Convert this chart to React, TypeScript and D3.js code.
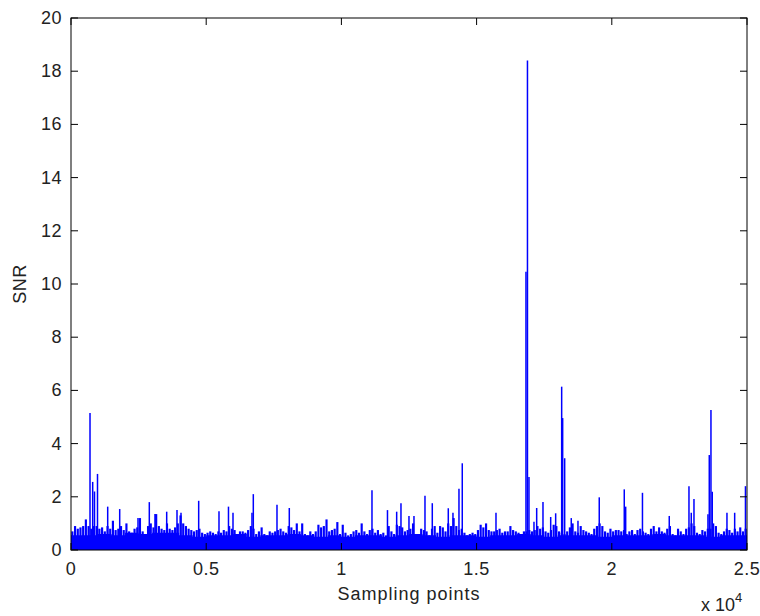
import React from 'react';
import * as d3 from 'd3';

// SNR envelope per 100 samples (column max of the dense noise band)
const BIN = 100;
const envelope = [
  0.7, 0.9, 0.8, 0.85, 0.9, 1.15, 0.9, 0.8, 0.9, 0.9,
  0.8, 0.85, 0.7, 0.9, 0.8, 1.1, 0.75, 0.8, 0.9, 0.75,
  1.0, 0.7, 0.65, 0.8, 0.85, 1.2, 0.7, 0.6, 0.9, 1.0,
  0.85, 1.35, 0.9, 0.8, 0.75, 1.0, 0.8, 0.75, 0.85, 1.0,
  1.3, 1.0, 0.9, 0.8, 0.75, 0.7, 0.75, 0.8, 0.65, 0.6,
  0.65, 0.7, 0.65, 0.6, 0.7, 0.65, 0.75, 0.7, 0.9, 0.8,
  0.75, 0.6, 0.7, 0.7, 0.65, 0.75, 0.9, 0.8, 0.6, 0.7,
  0.85, 0.6, 0.55, 0.7, 0.65, 0.7, 0.75, 0.8, 0.7, 0.65,
  0.9, 0.85, 0.75, 1.0, 0.7, 1.0, 0.6, 0.55, 0.7, 0.6,
  0.7, 0.95, 0.85, 0.9, 1.15, 0.7, 0.75, 0.8, 1.05, 0.6,
  0.95, 0.65, 0.55, 0.6, 0.7, 0.75, 0.65, 1.0, 0.7, 0.6,
  0.75, 0.8, 0.65, 0.75, 0.6, 0.65, 0.55, 0.9, 0.7, 0.6,
  0.95, 0.9, 0.85, 0.7, 0.75, 0.8, 1.0, 0.6, 0.55, 0.8,
  0.75, 0.7, 0.55, 0.8, 0.9, 0.65, 0.9, 0.85, 0.7, 1.0,
  0.9, 1.2, 0.9, 0.75, 0.8, 0.65, 0.55, 0.6, 0.65, 0.6,
  0.75, 0.95, 0.85, 1.0, 0.75, 0.7, 0.7, 0.75, 0.8, 0.65,
  0.7, 0.7, 0.9, 0.75, 0.7, 0.65, 0.6, 0.7, 0.7, 0.75,
  0.7, 0.75, 0.9, 0.8, 0.85, 0.7, 0.65, 0.75, 0.95, 0.9,
  0.7, 0.65, 0.6, 0.7, 0.85, 1.0, 0.7, 0.65, 0.9, 0.75,
  0.7, 0.65, 0.6, 0.8, 0.9, 1.0, 0.9, 0.7, 0.65, 0.8,
  0.7, 0.75, 0.75, 0.7, 0.75, 0.6, 0.7, 0.75, 0.6, 0.75,
  0.8, 0.7, 0.65, 0.6, 0.8, 0.9, 0.7, 0.85, 0.7, 0.65,
  0.8, 0.9, 0.6, 0.55, 0.8, 0.7, 0.6, 0.8, 0.85, 1.0,
  0.9, 0.65, 0.6, 0.75, 0.7, 0.8, 0.8, 1.0, 0.9, 0.65,
  0.6, 0.7, 0.8, 0.75, 0.65, 0.8, 0.7, 0.85, 0.7, 0.8,
];

// solid lower part of the noise band, per 500 samples
const FLOOR_STEP = 500;
const floorLevels = [
  0.55, 0.55, 0.6, 0.55, 0.65, 0.6, 0.65, 0.65, 0.55, 0.5,
  0.55, 0.55, 0.6, 0.5, 0.55, 0.55, 0.6, 0.55, 0.5, 0.55,
  0.5, 0.55, 0.55, 0.5, 0.55, 0.6, 0.55, 0.5, 0.55, 0.55,
  0.5, 0.55, 0.55, 0.6, 0.55, 0.5, 0.55, 0.55, 0.55, 0.5,
  0.55, 0.55, 0.55, 0.6, 0.55, 0.55, 0.55, 0.5, 0.55, 0.55,
];

// isolated spikes: [sample index, SNR]
const peaks: [number, number][] = [
  [703, 5.15], [802, 2.56], [869, 2.2], [980, 2.86], [1357, 1.63], [1801, 1.54],
  [2478, 1.2], [2896, 1.8], [3106, 1.35], [3539, 1.44], [3920, 1.5], [4068, 1.4],
  [4722, 1.85], [5473, 1.46], [5824, 1.63], [5991, 1.4], [6693, 1.4], [6742, 2.1],
  [7618, 1.7], [8073, 1.58], [11131, 2.25], [11704, 1.5], [12044, 1.44], [12203, 1.76],
  [12499, 1.28], [12684, 1.28], [13091, 2.04], [13361, 1.76], [13953, 1.57], [14126, 1.4],
  [14348, 2.3], [14470, 3.26], [15717, 1.4], [16826, 10.46], [16881, 18.4], [16937, 2.74],
  [17122, 1.06], [17222, 1.58], [17455, 1.8], [17740, 1.24], [17924, 1.38], [18146, 6.14],
  [18183, 4.96], [18257, 3.45], [18501, 1.2], [18749, 1.1], [19536, 1.98], [20461, 2.28],
  [20513, 1.63], [21134, 2.15], [22125, 1.28], [22854, 2.4], [22939, 1.4], [23039, 1.92],
  [23556, 1.34], [23605, 3.57], [23667, 5.26], [23715, 2.19], [24259, 1.4], [24544, 1.4],
  [24943, 2.4],
];

const xTicks = [0, 5000, 10000, 15000, 20000, 25000];
const xTickLabels = ['0', '0.5', '1', '1.5', '2', '2.5'];
const yTicks = [0, 2, 4, 6, 8, 10, 12, 14, 16, 18, 20];

const W = 760, H = 616;
const L = 71, R = 747, T = 18, B = 550;
const FONT = "'Liberation Sans', Arial, Helvetica, sans-serif";
const BLUE = '#0000ff';

export default function App() {
  const x = d3.scaleLinear().domain([0, 25000]).range([L, R]);
  const y = d3.scaleLinear().domain([0, 20]).range([B, T]);

  const floorPts: [number, number][] = floorLevels.map((v, i) => [i * FLOOR_STEP, v]);
  floorPts.push([25000, floorLevels[floorLevels.length - 1]]);
  const floorArea = d3.area<[number, number]>()
    .x(d => x(d[0]))
    .y0(y(0))
    .y1(d => y(d[1]))
    .curve(d3.curveStepAfter)(floorPts) || '';

  const binW = x(BIN) - x(0);
  const tick = 7;

  return (
    <svg width={W} height={H} style={{ position: 'absolute', left: 0, top: 0, background: '#fff' }}
      fontFamily={FONT}>
      <rect x={0} y={0} width={W} height={H} fill="#fff" />
      <defs>
        <clipPath id="plotClip">
          <rect x={L} y={T} width={R - L} height={B - T} />
        </clipPath>
      </defs>
      <g clipPath="url(#plotClip)">
        <path d={floorArea} fill={BLUE} />
        {envelope.map((v, i) => (
          <rect key={'e' + i} x={x(i * BIN) + binW * 0.1} y={y(v)} width={binW * 0.8}
            height={y(0) - y(v)} fill={BLUE} />
        ))}
        {peaks.map(([s, v], i) => (
          <line key={'p' + i} x1={x(s)} x2={x(s)} y1={y(0)} y2={y(v)} stroke={BLUE} strokeWidth={1.5} />
        ))}
      </g>
      {/* box */}
      <rect x={L} y={T} width={R - L} height={B - T} fill="none" stroke="#000" strokeWidth={1} />
      {/* y ticks */}
      {yTicks.map(t => (
        <g key={'y' + t}>
          <line x1={L} x2={L + tick} y1={y(t)} y2={y(t)} stroke="#000" />
          <line x1={R} x2={R - tick} y1={y(t)} y2={y(t)} stroke="#000" />
          <text x={L - 9} y={y(t)} textAnchor="end" dominantBaseline="central" fontSize={18}
            letterSpacing={0.5} fill="#222">{t}</text>
        </g>
      ))}
      {/* x ticks */}
      {xTicks.map((t, i) => (
        <g key={'x' + t}>
          <line x1={x(t)} x2={x(t)} y1={B} y2={B - tick} stroke="#000" />
          <line x1={x(t)} x2={x(t)} y1={T} y2={T + tick} stroke="#000" />
          <text x={x(t)} y={575} textAnchor="middle" fontSize={18} letterSpacing={0.5} fill="#222">{xTickLabels[i]}</text>
        </g>
      ))}
      <text x={(L + R) / 2} y={600} textAnchor="middle" fontSize={18} letterSpacing={1} fill="#222">Sampling points</text>
      <text transform={`translate(20,${(T + B) / 2}) rotate(-90)`} textAnchor="middle" dominantBaseline="central"
        fontSize={18} letterSpacing={0.5} fill="#222">SNR</text>
      <text x={701} y={611} fontSize={18} fill="#222">
        x 10<tspan dy={-9} fontSize={13}>4</tspan>
      </text>
    </svg>
  );
}
